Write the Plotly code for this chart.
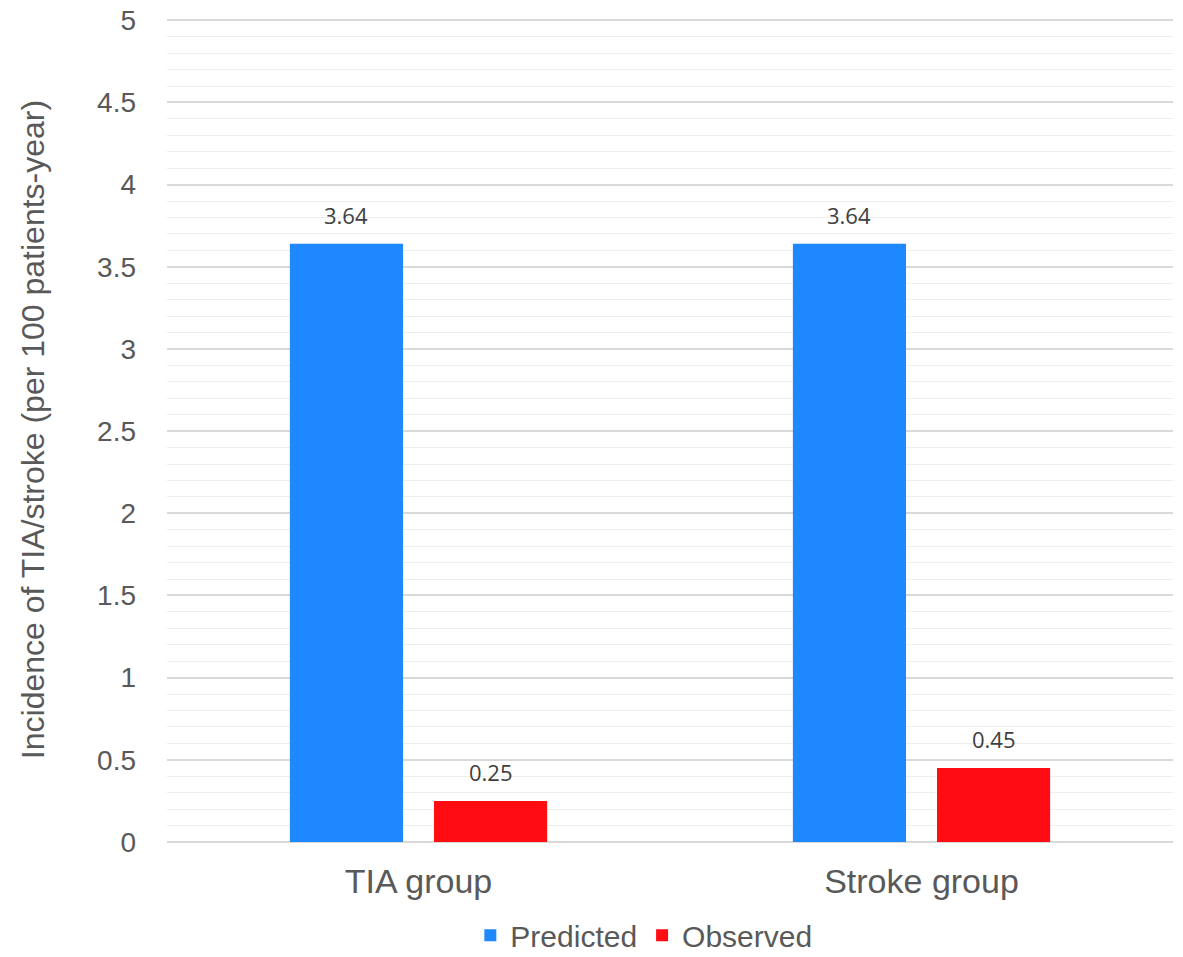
import plotly.graph_objects as go

categories = ["TIA group", "Stroke group"]
predicted = [3.64, 3.64]
observed = [0.25, 0.45]
predicted_labels = ["3.64", "3.64"]
observed_labels = ["0.25", "0.45"]
y_tickvals = [0, 0.5, 1, 1.5, 2, 2.5, 3, 3.5, 4, 4.5, 5]
y_ticktext = ["0", "0.5", "1", "1.5", "2", "2.5", "3", "3.5", "4", "4.5", "5"]

BARGAP = 0.427
fig = go.Figure()
fig.add_trace(go.Bar(
    x=categories, y=predicted, name="Predicted",
    marker=dict(color="#1e88ff", line=dict(width=0)),
))
fig.add_trace(go.Bar(
    x=categories, y=observed, name="Observed",
    marker=dict(color="#ff0d12", line=dict(width=0)),
))

# value labels placed above each bar (data coordinates, grouped offsets)
slot = (1 - BARGAP) / 2
for vals, labels, off in [(predicted, predicted_labels, -slot / 2), (observed, observed_labels, slot / 2)]:
    for i, (v, t) in enumerate(zip(vals, labels)):
        fig.add_annotation(x=i + off, y=v, text=t, showarrow=False,
                           yanchor="bottom", yshift=12,
                           font=dict(family="Open Sans", size=22, color="#404040"))

fig.update_layout(
    width=1183, height=957,
    margin=dict(l=167, r=10, t=17, b=115, autoexpand=False),
    paper_bgcolor="white", plot_bgcolor="white",
    barmode="group", bargap=BARGAP, bargroupgap=0.215,
    font=dict(family="Liberation Sans", color="#595959"),
    showlegend=True,
    legend=dict(orientation="h", xref="paper", x=0.474, xanchor="center",
                y=-0.113, yanchor="middle",
                font=dict(size=30, color="#595959"),
                traceorder="normal"),
    yaxis=dict(
        range=[0, 5.02], tickvals=y_tickvals, ticktext=y_ticktext, automargin=False,
        showgrid=True, gridcolor="#d9d9d9", gridwidth=1.5,
        minor=dict(dtick=0.1, showgrid=True, gridcolor="#eeeeee", gridwidth=1),
        zeroline=True, zerolinecolor="#d9d9d9", zerolinewidth=1.5,
        tickfont=dict(size=28, color="#595959"),
        ticks="", ticklabelstandoff=30,
        title=dict(text="Incidence of TIA/stroke (per 100 patients-year)",
                   font=dict(size=32, color="#595959"), standoff=42),
    ),
    xaxis=dict(
        tickfont=dict(size=34, color="#595959"), automargin=False,
        showline=False, ticks="", ticklabelstandoff=16,
    ),
)

fig.write_html("out.html", config={"displayModeBar": False},
               post_script="document.body.style.margin='0';")
